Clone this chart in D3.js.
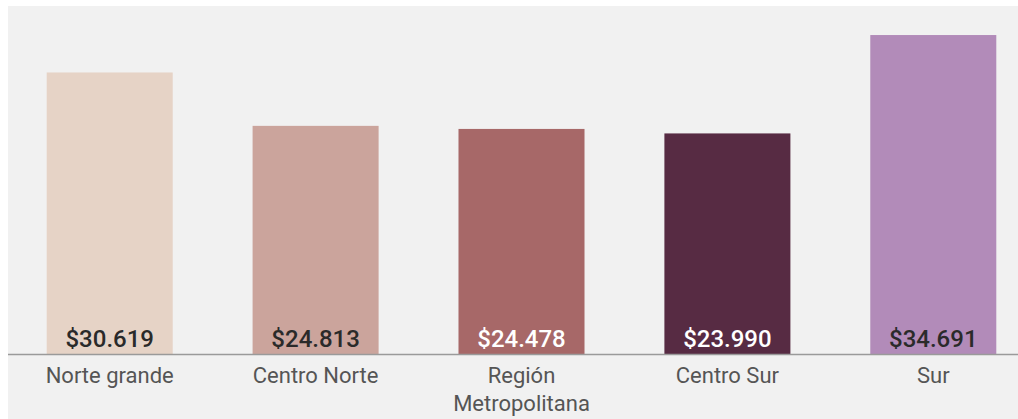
<!DOCTYPE html>
<html>
<head>
<meta charset="utf-8">
<script src="https://cdn.jsdelivr.net/npm/d3@7"></script>
<style>
    body { margin: 0; background: #fff; }
    svg { display: block; }
</style>
</head>
<body>
<script>
    const regions = ["Norte grande", "Centro Norte", "Región Metropolitana", "Centro Sur", "Sur"];
    const ingresos = [30619, 24813, 24478, 23990, 34691];
    const colores = ["#e6d3c6", "#cba49c", "#a76868", "#572b43", "#b28bb9"];
    const colores_texto = ["#2a2a2a", "#2a2a2a", "#ffffff", "#ffffff", "#2a2a2a"];

    const width = 1018;
    const height = 419;
    const baseline = 354;

    const svg = d3.select("body")
        .append("svg")
        .attr("width", width)
        .attr("height", height);

    // panel gris
    svg.append("rect")
        .attr("x", 8)
        .attr("y", 6)
        .attr("width", width - 8)
        .attr("height", height - 6)
        .attr("fill", "#f1f1f1");

    const x = d3.scaleBand()
        .domain(regions)
        .range([8, 1035])
        .paddingInner(0.388)
        .paddingOuter(0.188);

    const y = d3.scaleLinear()
        .domain([0, 36000])
        .range([baseline, 23]);

    const locale = d3.formatLocale({ decimal: ",", thousands: ".", grouping: [3], currency: ["$", ""] });
    const fmt = locale.format("$,.0f");

    const data = regions.map((r, i) => ({ region: r, valor: ingresos[i], color: colores[i], texto: colores_texto[i] }));

    svg.append("g")
        .selectAll("rect")
        .data(data)
        .join("rect")
        .attr("x", d => x(d.region))
        .attr("y", d => y(d.valor))
        .attr("width", x.bandwidth())
        .attr("height", d => y(0) - y(d.valor))
        .attr("fill", d => d.color);

    svg.append("g")
        .selectAll("text")
        .data(data)
        .join("text")
        .attr("x", d => x(d.region) + x.bandwidth() / 2)
        .attr("y", baseline - 7)
        .attr("text-anchor", "middle")
        .attr("font-family", "Roboto")
        .attr("font-size", 24)
        .attr("font-weight", 500)
        .attr("fill", d => d.texto)
        .text(d => fmt(d.valor));

    // eje x
    svg.append("line")
        .attr("x1", 8)
        .attr("x2", width)
        .attr("y1", baseline + 0.5)
        .attr("y2", baseline + 0.5)
        .attr("stroke", "#9a9a9a")
        .attr("stroke-width", 1.5);

    const labels = svg.append("g")
        .selectAll("text")
        .data(regions)
        .join("text")
        .attr("x", d => x(d) + x.bandwidth() / 2)
        .attr("y", 383)
        .attr("text-anchor", "middle")
        .attr("font-family", "Roboto")
        .attr("font-size", 22)
        .attr("fill", "#555");

    labels.each(function (d) {
        const words = d === "Región Metropolitana" ? ["Región", "Metropolitana"] : [d];
        d3.select(this)
            .selectAll("tspan")
            .data(words)
            .join("tspan")
            .attr("x", x(d) + x.bandwidth() / 2)
            .attr("dy", (w, i) => i ? 28 : 0)
            .text(w => w);
    });
</script>
</body>
</html>
